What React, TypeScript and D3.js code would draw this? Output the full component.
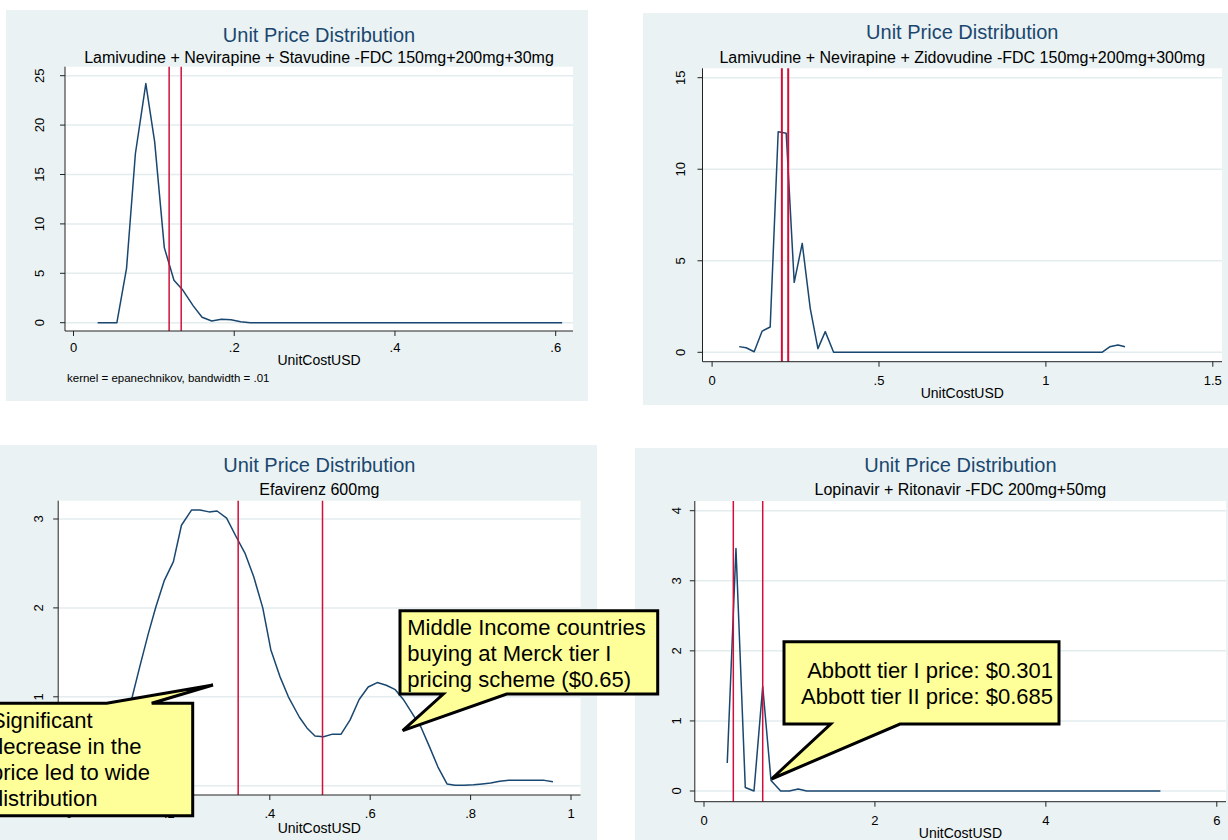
import React from 'react';
import * as d3 from 'd3';

// ---------- data ----------
const TITLE = 'Unit Price Distribution';
const X_TITLE = 'UnitCostUSD';

const p1Sub = 'Lamivudine + Nevirapine + Stavudine -FDC 150mg+200mg+30mg';
const p1X = [0.030, 0.042, 0.054, 0.066, 0.077, 0.090, 0.101, 0.113, 0.125, 0.136, 0.149, 0.160, 0.172, 0.184, 0.196, 0.208, 0.220, 0.608];
const p1Y = [0, 0, 0, 5.5, 17.1, 24.2, 18.3, 7.6, 4.3, 3.3, 1.7, 0.55, 0.17, 0.34, 0.3, 0.1, 0, 0];
const p1Lines = [0.119, 0.134];
const p1XTicks = [0, 0.2, 0.4, 0.6];
const p1XLabels = ['0', '.2', '.4', '.6'];
const p1YTicks = [0, 5, 10, 15, 20, 25];
const p1Note = 'kernel = epanechnikov, bandwidth = .01';

const p2Sub = 'Lamivudine + Nevirapine + Zidovudine -FDC 150mg+200mg+300mg';
const p2X = [0.081, 0.102, 0.126, 0.150, 0.174, 0.198, 0.222, 0.246, 0.270, 0.294, 0.317, 0.339, 0.364, 1.168, 1.191, 1.216, 1.237];
const p2Y = [0.31, 0.25, 0.03, 1.16, 1.38, 12.05, 11.96, 3.82, 5.95, 2.4, 0.2, 1.13, 0, 0, 0.3, 0.4, 0.3];
const p2Lines = [0.209, 0.228];
const p2XTicks = [0, 0.5, 1, 1.5];
const p2XLabels = ['0', '.5', '1', '1.5'];
const p2YTicks = [0, 5, 10, 15];

const p3Sub = 'Efavirenz 600mg';
const p3X = [0.074, 0.091, 0.109, 0.126, 0.141, 0.158, 0.173, 0.190, 0.208, 0.224, 0.244, 0.261, 0.279, 0.295, 0.314, 0.333, 0.351, 0.368, 0.386, 0.402, 0.420, 0.437, 0.459, 0.474, 0.490, 0.507, 0.525, 0.542, 0.560, 0.578, 0.596, 0.614, 0.632, 0.650, 0.666, 0.683, 0.701, 0.718, 0.735, 0.753, 0.769, 0.787, 0.806, 0.823, 0.840, 0.858, 0.876, 0.894, 0.912, 0.929, 0.947, 0.964];
const p3Y = [0.25, 0.45, 0.7, 1.0, 1.34, 1.71, 2.01, 2.31, 2.52, 2.93, 3.10, 3.10, 3.08, 3.09, 3.01, 2.80, 2.61, 2.35, 2.0, 1.53, 1.23, 1.0, 0.77, 0.65, 0.56, 0.55, 0.58, 0.58, 0.74, 0.97, 1.11, 1.16, 1.13, 1.08, 0.97, 0.82, 0.66, 0.44, 0.21, 0.02, 0.005, 0.005, 0.01, 0.02, 0.03, 0.05, 0.06, 0.06, 0.06, 0.06, 0.06, 0.045];
const p3Lines = [0.337, 0.505];
const p3XTicks = [0, 0.2, 0.4, 0.6, 0.8, 1];
const p3XLabels = ['0', '.2', '.4', '.6', '.8', '1'];
const p3YTicks = [0, 1, 2, 3];

const p4Sub = 'Lopinavir + Ritonavir -FDC 200mg+50mg';
const p4X = [0.272, 0.374, 0.483, 0.585, 0.687, 0.784, 0.897, 0.998, 1.103, 1.201, 5.34];
const p4Y = [0.40, 3.46, 0.05, 0, 1.49, 0.15, 0, 0, 0.03, 0, 0];
const p4Lines = [0.343, 0.687];
const p4XTicks = [0, 2, 4, 6];
const p4XLabels = ['0', '2', '4', '6'];
const p4YTicks = [0, 1, 2, 3, 4];

const noteSignificant = ['Significant', 'decrease in the', 'price led to wide', 'distribution'];
const noteMiddle = ['Middle Income countries', 'buying at Merck tier I', 'pricing scheme ($0.65)'];
const noteAbbott = ['Abbott tier I price: $0.301', 'Abbott tier II price: $0.685'];

// ---------- styles ----------
const FONT = "'Liberation Sans', Arial, Helvetica, sans-serif";
const BG = '#eaf2f3';
const GRID = '#e3ecee';
const NAVY = '#1a476f';
const RED = '#d0103a';
const YELLOW = '#ffff99';

type Layout = {
  bg: { x: number; y: number; w: number; h: number };
  plot: { l: number; t: number; r: number; b: number };
  xd: [number, number]; xr: [number, number];
  yd: [number, number]; yr: [number, number];
  titleY: number; subY: number; tickY: number; axisTitleY: number; yLabGap: number;
};

function Panel(props: {
  lay: Layout; sub: string; xs: number[]; ys: number[]; lines: number[];
  xTicks: number[]; xLabels: string[]; yTicks: number[]; lineW?: number;
}) {
  const { lay, sub, xs, ys, lines, xTicks, xLabels, yTicks } = props;
  const x = d3.scaleLinear().domain(lay.xd).range(lay.xr);
  const y = d3.scaleLinear().domain(lay.yd).range(lay.yr);
  const { l, t, r, b } = lay.plot;
  const cx = (l + r) / 2;
  const pts: [number, number][] = xs.map((v, i) => [v, ys[i]]);
  const line = d3.line<[number, number]>().x(d => x(d[0])).y(d => y(d[1]));
  return (
    <g>
      <rect x={lay.bg.x} y={lay.bg.y} width={lay.bg.w} height={lay.bg.h} fill={BG} />
      <rect x={l} y={t} width={r - l} height={b - t} fill="#fff" />
      {yTicks.map(v => (
        <line key={'g' + v} x1={l} x2={r} y1={y(v)} y2={y(v)} stroke={GRID} strokeWidth={1.5} />
      ))}
      <path d={line(pts) || ''} fill="none" stroke={NAVY} strokeWidth={1.5} strokeLinejoin="round" />
      {lines.map(v => (
        <line key={'r' + v} x1={x(v)} x2={x(v)} y1={t} y2={b} stroke={RED} strokeWidth={props.lineW || 1.5} />
      ))}
      <line x1={l} x2={l} y1={t} y2={b} stroke="#222" strokeWidth={1} />
      <line x1={l} x2={r} y1={b} y2={b} stroke="#222" strokeWidth={1} />
      {yTicks.map(v => (
        <g key={'yt' + v}>
          <line x1={l - 5} x2={l} y1={y(v)} y2={y(v)} stroke="#222" strokeWidth={1} />
          <text transform={`translate(${l - lay.yLabGap},${y(v)}) rotate(-90)`} textAnchor="middle"
            fontSize={13} fontFamily={FONT} fill="#000">{String(v)}</text>
        </g>
      ))}
      {xTicks.map((v, i) => (
        <g key={'xt' + v}>
          <line x1={x(v)} x2={x(v)} y1={b} y2={b + 5} stroke="#222" strokeWidth={1} />
          <text x={x(v)} y={lay.tickY} textAnchor="middle" fontSize={13} fontFamily={FONT} fill="#000">{xLabels[i]}</text>
        </g>
      ))}
      <text x={cx} y={lay.axisTitleY} textAnchor="middle" fontSize={14} fontFamily={FONT} fill="#000">{X_TITLE}</text>
      <text x={cx} y={lay.titleY} textAnchor="middle" fontSize={20} fontFamily={FONT} fill={NAVY}>{TITLE}</text>
      <text x={cx} y={lay.subY} textAnchor="middle" fontSize={16} fontFamily={FONT} fill="#000">{sub}</text>
    </g>
  );
}

const L1: Layout = {
  bg: { x: 6, y: 10, w: 582, h: 391 }, plot: { l: 65, t: 66.7, r: 573, b: 331 },
  xd: [0, 0.6], xr: [73.5, 555.7], yd: [0, 25], yr: [322.7, 75.7],
  titleY: 41.7, subY: 63.3, tickY: 352.3, axisTitleY: 365, yLabGap: 21,
};
const L2: Layout = {
  bg: { x: 643, y: 13, w: 585, h: 392 }, plot: { l: 702.5, t: 68.3, r: 1222, b: 361.7 },
  xd: [0, 1.5], xr: [712.1, 1212.8], yd: [0, 15], yr: [352.3, 77.7],
  titleY: 39.3, subY: 63.3, tickY: 385, axisTitleY: 398, yLabGap: 18,
};
const L3: Layout = {
  bg: { x: 0, y: 445, w: 597, h: 395 }, plot: { l: 58.2, t: 500.7, r: 580.5, b: 795 },
  xd: [0.4, 1], xr: [269.8, 571], yd: [0, 3], yr: [785.7, 519],
  titleY: 471.7, subY: 495, tickY: 818.3, axisTitleY: 833, yLabGap: 15,
};
const L4: Layout = {
  bg: { x: 635, y: 448, w: 593, h: 392 }, plot: { l: 694.8, t: 501, r: 1226, b: 801.7 },
  xd: [0, 6], xr: [704, 1216.8], yd: [0, 4], yr: [791, 510.7],
  titleY: 471.7, subY: 495, tickY: 825, axisTitleY: 838.3, yLabGap: 14,
};

function Callout(props: { d: string; lines: string[]; x: number; y0: number; dy: number; anchor?: string }) {
  return (
    <g>
      <path d={props.d} fill={YELLOW} stroke="#000" strokeWidth={3} strokeLinejoin="miter" />
      {props.lines.map((s, i) => (
        <text key={i} x={props.x} y={props.y0 + i * props.dy} fontSize={22} fontFamily={FONT}
          textAnchor={props.anchor || 'start'} fill="#000">{s}</text>
      ))}
    </g>
  );
}

export default function App() {
  return (
    <svg width={1228} height={840} style={{ position: 'absolute', left: 0, top: 0, background: '#fff' }}>
      <rect x={0} y={0} width={1228} height={840} fill="#fff" />
      <Panel lay={L1} sub={p1Sub} xs={p1X} ys={p1Y} lines={p1Lines} xTicks={p1XTicks} xLabels={p1XLabels} yTicks={p1YTicks} />
      <text x={67} y={381.7} fontSize={11.5} fontFamily={FONT} fill="#000">{p1Note}</text>
      <Panel lay={L2} sub={p2Sub} xs={p2X} ys={p2Y} lines={p2Lines} xTicks={p2XTicks} xLabels={p2XLabels} yTicks={p2YTicks} lineW={2} />
      <Panel lay={L3} sub={p3Sub} xs={p3X} ys={p3Y} lines={p3Lines} xTicks={p3XTicks} xLabels={p3XLabels} yTicks={p3YTicks} />
      <Panel lay={L4} sub={p4Sub} xs={p4X} ys={p4Y} lines={p4Lines} xTicks={p4XTicks} xLabels={p4XLabels} yTicks={p4YTicks} />
      <Callout d="M-10,703.3 H106.7 L213,685 L151.7,703.3 H192.7 V815.7 H-10 Z"
        lines={noteSignificant} x={-9} y0={728.3} dy={26} />
      <Callout d="M400,610.7 H657.7 V694 H506.7 L402.7,730.7 L443.3,694 H400 Z"
        lines={noteMiddle} x={407.3} y0={635} dy={26.2} />
      <Callout d="M784,641.7 H1059 V724 H900 L771.5,779 L830.7,724 H784 Z"
        lines={noteAbbott} x={1053} y0={678.3} dy={25.7} anchor="end" />
    </svg>
  );
}
